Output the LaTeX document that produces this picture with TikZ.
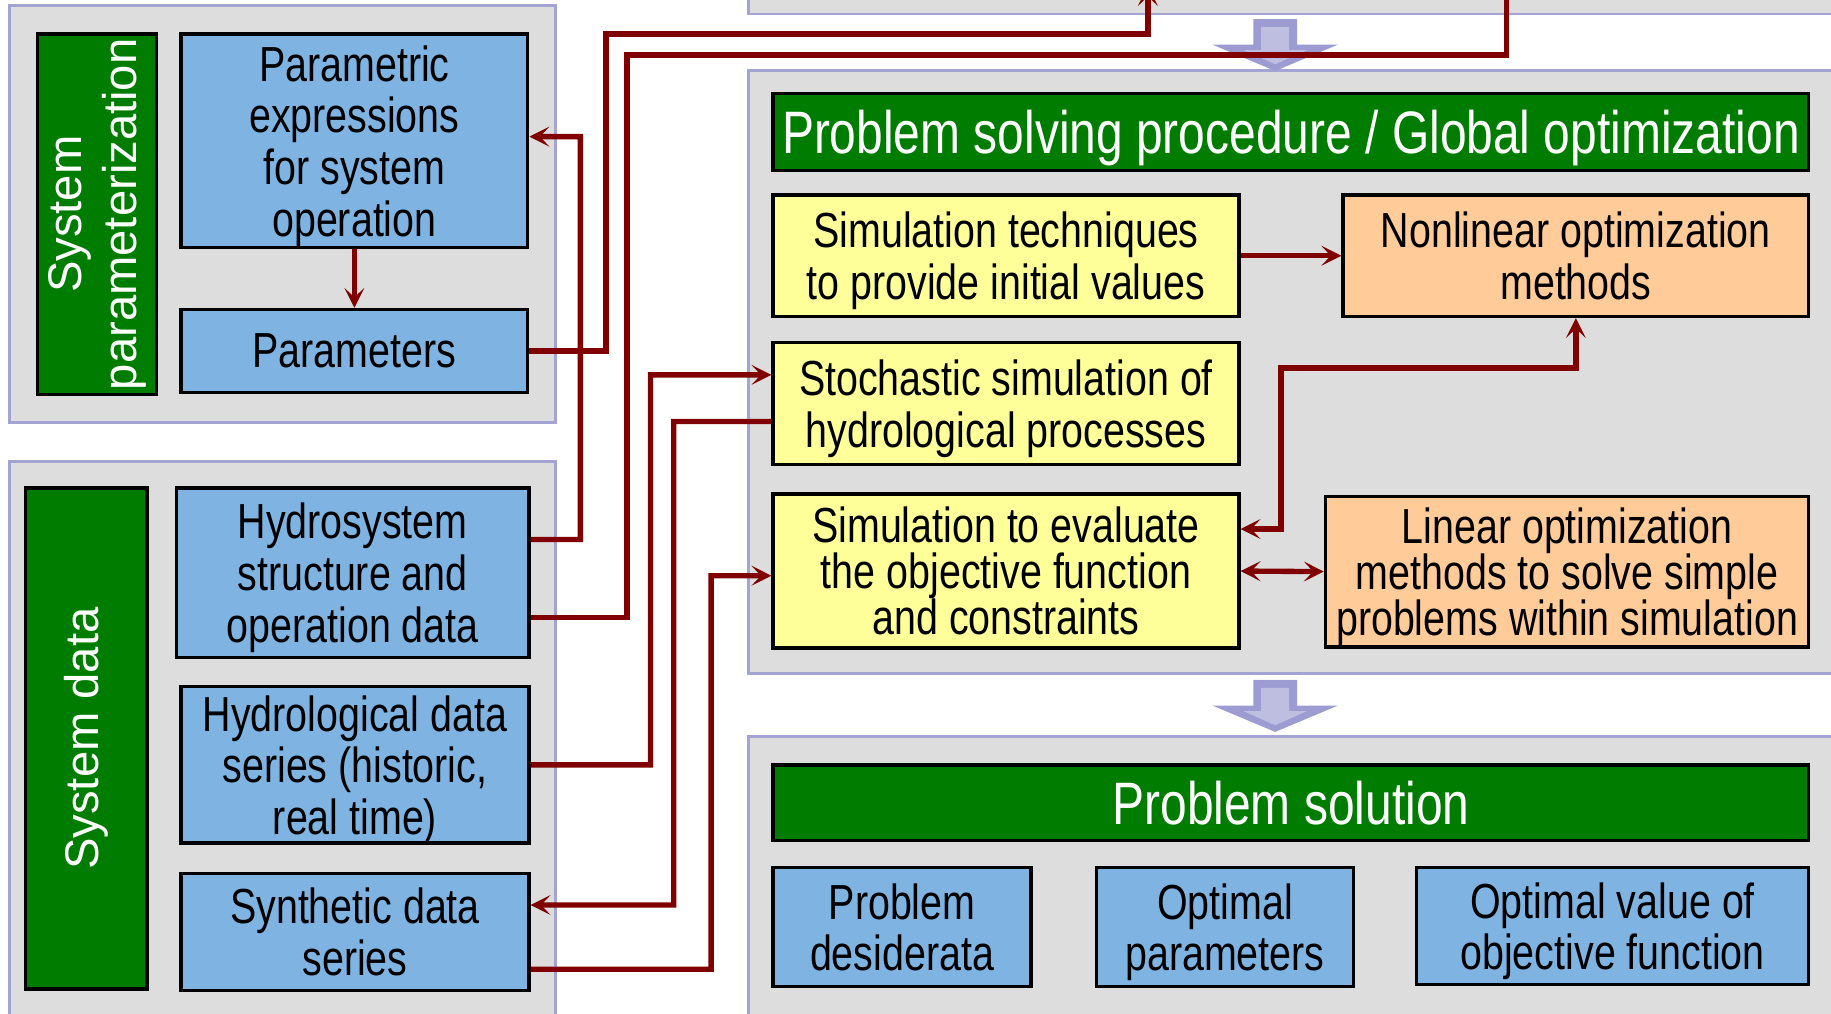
\documentclass[tikz,border=0pt]{standalone}
\usepackage{fontspec}
\setmainfont{Liberation Sans}[FakeStretch=0.8]
\newfontfamily\widefont{Liberation Sans}
\usetikzlibrary{arrows.meta}

\definecolor{panelgray}{HTML}{DDDDDD}
\definecolor{panelline}{HTML}{A4A4D4}
\definecolor{headgreen}{HTML}{007D00}
\definecolor{datablue}{HTML}{7FB4E2}
\definecolor{simyellow}{HTML}{FFFF99}
\definecolor{optorange}{HTML}{FFCC99}
\definecolor{linkred}{HTML}{800000}
\definecolor{bigarrow}{HTML}{9C9CD2}
\definecolor{bigarrowin}{HTML}{BEBEE1}

\begin{document}
\begin{tikzpicture}[
    panel/.style={draw=panelline, fill=panelgray, line width=0.7pt, inner sep=0},
    head/.style={draw=black, fill=headgreen, text=white, line width=0.8pt, inner sep=0, text depth=0pt, font=\fontsize{14.6}{15}\selectfont},
    side/.style={draw=black, fill=headgreen, text=white, line width=0.8pt, inner sep=0, rotate=90, align=center, font=\widefont\fontsize{11.5}{13.4}\selectfont},
    box/.style={draw=black, line width=0.8pt, inner sep=0, text depth=0pt, align=center, font=\fontsize{12}{12.6}\selectfont},
    databox/.style={box, fill=datablue},
    simbox/.style={box, fill=simyellow},
    optbox/.style={box, fill=optorange},
    tight/.style={font=\fontsize{12}{11.2}\selectfont},
    link/.style={draw=linkred, line width=1.3pt},
    arrow/.style={link, -{Stealth[length=1.7mm, width=1.7mm, inset=0.8mm]}},
    twoway/.style={link, {Stealth[length=1.7mm, width=1.7mm, inset=0.8mm]}-{Stealth[length=1.7mm, width=1.7mm, inset=0.8mm]}}
]
\useasboundingbox (0,0) rectangle (15.68,-8.68);
\clip (0,0) rectangle (15.68,-8.68);

% Panels
\node[panel, minimum width=4.68cm, minimum height=3.57cm] (parpanel) at (2.42,-1.835) {};
\node[panel, minimum width=4.68cm, minimum height=5.05cm] (datapanel) at (2.42,-6.475) {};
\node[panel, minimum width=9.59cm, minimum height=1.12cm] (toppanel) at (11.205,0.44) {};
\node[panel, minimum width=9.59cm, minimum height=5.17cm] (solvepanel) at (11.205,-3.185) {};
\node[panel, minimum width=9.59cm, minimum height=2.69cm] (solpanel) at (11.205,-7.655) {};

% Big arrows between panels
\filldraw[draw=bigarrow, fill=bigarrow] (10.74,-0.17) -- (11.10,-0.17) -- (11.10,-0.39) -- (11.42,-0.39) -- (10.92,-0.60) -- (10.42,-0.39) -- (10.74,-0.39) -- cycle;
\fill[bigarrowin] (10.80,-0.23) -- (11.04,-0.23) -- (11.04,-0.43) -- (11.19,-0.43) -- (10.92,-0.55) -- (10.65,-0.43) -- (10.80,-0.43) -- cycle;
\filldraw[draw=bigarrow, fill=bigarrow] (10.74,-5.83) -- (11.10,-5.83) -- (11.10,-6.05) -- (11.42,-6.05) -- (10.92,-6.26) -- (10.42,-6.05) -- (10.74,-6.05) -- cycle;
\fill[bigarrowin] (10.80,-5.89) -- (11.04,-5.89) -- (11.04,-6.09) -- (11.19,-6.09) -- (10.92,-6.21) -- (10.65,-6.09) -- (10.80,-6.09) -- cycle;

% System parameterization
\node[side, minimum width=3.09cm, minimum height=1.02cm] (partitle) at (0.83,-1.835) {System\\parameterization};
\node[databox, minimum width=2.97cm, minimum height=1.83cm] (pexpr) at (3.035,-1.205) {Parametric\\expressions\\for system\\operation};
\node[databox, minimum width=2.97cm, minimum height=0.71cm] (params) at (3.035,-3.005) {Parameters};

% System data
\node[side, minimum width=4.29cm, minimum height=1.04cm] (datatitle) at (0.74,-6.325) {System data};
\node[databox, minimum width=3.02cm, minimum height=1.45cm] (hsys) at (3.02,-4.905) {Hydrosystem\\structure and\\operation data};
\node[databox, minimum width=2.98cm, minimum height=1.34cm] (hydrol) at (3.04,-6.55) {Hydrological data\\series (historic,\\real time)};
\node[databox, minimum width=2.98cm, minimum height=1.00cm] (synth) at (3.04,-7.98) {Synthetic data\\series};

% Problem solving procedure
\node[head, minimum width=8.87cm, minimum height=0.66cm] (solvetitle) at (11.055,-1.13) {Problem solving procedure / Global optimization};
\node[simbox, minimum width=3.99cm, minimum height=1.04cm] (simtech) at (8.615,-2.19) {Simulation techniques\\to provide initial values};
\node[simbox, minimum width=3.99cm, minimum height=1.05cm] (stoch) at (8.615,-3.455) {Stochastic simulation of\\hydrological processes};
\node[simbox, tight, minimum width=3.99cm, minimum height=1.32cm] (simeval) at (8.615,-4.89) {Simulation to evaluate\\the objective function\\and constraints};
\node[optbox, minimum width=3.99cm, minimum height=1.04cm] (nonlin) at (13.495,-2.19) {Nonlinear optimization\\methods};
\node[optbox, tight, minimum width=4.14cm, minimum height=1.29cm] (lin) at (13.42,-4.895) {Linear optimization\\methods to solve simple\\problems within simulation};

% Problem solution
\node[head, minimum width=8.87cm, minimum height=0.65cm] (soltitle) at (11.055,-6.875) {Problem solution};
\node[databox, minimum width=2.21cm, minimum height=1.02cm] (desid) at (7.725,-7.94) {Problem\\desiderata};
\node[databox, minimum width=2.20cm, minimum height=1.02cm] (optpar) at (10.49,-7.94) {Optimal\\parameters};
\node[databox, minimum width=3.36cm, minimum height=1.00cm] (optval) at (13.81,-7.93) {Optimal value of\\objective function};

% Connectors
\coordinate (topA) at (9.83,0.12);
\coordinate (topB) at (12.90,0.30);
\draw[arrow] (pexpr.south) -- (params.north);
\draw[arrow] (params.east) -| (5.19,-0.29) -| (topA);
\draw[link] (topB) |- (5.37,-0.47) |- ([yshift=-3.85mm]hsys.east);
\draw[arrow] ([yshift=2.85mm]hsys.east) -| (4.97,-1.17) -- ([yshift=0.35mm]pexpr.east);
\draw[arrow] (hydrol.east) -| (5.57,-3.21) -- ([yshift=2.45mm]stoch.west);
\draw[arrow] ([yshift=-1.55mm]stoch.west) -| (5.77,-7.75) -- ([yshift=2.3mm]synth.east);
\draw[arrow] ([yshift=-3.2mm]synth.east) -| (6.09,-4.93) -- ([yshift=-0.4mm]simeval.west);
\draw[arrow] (simtech.east) -- (nonlin.west);
\draw[twoway] ([yshift=3.6mm]simeval.east) -| (10.97,-3.15) -| (nonlin.south);
\draw[twoway] (simeval.east) -- (lin.west);

\end{tikzpicture}
\end{document}
